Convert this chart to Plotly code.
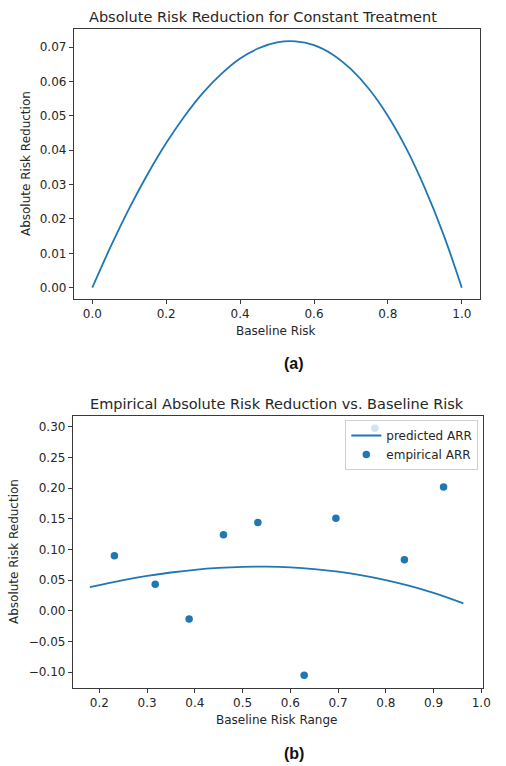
import plotly.graph_objects as go

# (a) absolute risk reduction vs. baseline risk under a constant treatment effect
risk_grid = [0.00, 0.05, 0.10, 0.15, 0.20, 0.25, 0.30, 0.35, 0.40, 0.45, 0.50,
             0.55, 0.60, 0.65, 0.70, 0.75, 0.80, 0.85, 0.90, 0.95, 1.00]
arr_constant = [0.0000, 0.0120, 0.0231, 0.0331, 0.0421, 0.0500, 0.0568, 0.0623,
                0.0667, 0.0697, 0.0714, 0.0717, 0.0706, 0.0679, 0.0636, 0.0577,
                0.0500, 0.0405, 0.0290, 0.0156, 0.0000]

# (b) predicted curve over the observed baseline-risk span
pred_risk = [0.18, 0.25, 0.30, 0.35, 0.40, 0.45, 0.50, 0.55, 0.60, 0.65,
             0.70, 0.75, 0.80, 0.85, 0.90, 0.9625]
pred_arr = [0.0386, 0.0500, 0.0568, 0.0623, 0.0667, 0.0697, 0.0714, 0.0717,
            0.0706, 0.0679, 0.0636, 0.0577, 0.0500, 0.0405, 0.0290, 0.0120]

# (b) empirical ARR per baseline-risk group
emp_risk = [0.2315, 0.317, 0.388, 0.460, 0.532, 0.629, 0.6955, 0.777, 0.839, 0.921]
emp_arr = [0.0897, 0.043, -0.0135, 0.124, 0.144, -0.1054, 0.1506, 0.2974, 0.0832, 0.2017]

x_ticks_a = [0.0, 0.2, 0.4, 0.6, 0.8, 1.0]
y_ticks_a = [0.00, 0.01, 0.02, 0.03, 0.04, 0.05, 0.06, 0.07]
x_ticks_b = [0.2, 0.3, 0.4, 0.5, 0.6, 0.7, 0.8, 0.9, 1.0]
y_ticks_b = [-0.10, -0.05, 0.00, 0.05, 0.10, 0.15, 0.20, 0.25, 0.30]

W, H = 506, 766
BLUE = "#1f77b4"
INK = "#262626"
SPINE = "#3a3a3a"
FONT = "DejaVu Sans"


def px_x(p):
    return p / W


def px_y(p):
    return 1 - p / H


fig = go.Figure()

fig.add_trace(go.Scatter(
    x=risk_grid, y=arr_constant, mode="lines", line=dict(color=BLUE, width=1.8, shape="spline"),
    xaxis="x", yaxis="y", showlegend=False,
))
fig.add_trace(go.Scatter(
    x=pred_risk, y=pred_arr, mode="lines", name="predicted ARR",
    line=dict(color=BLUE, width=1.8, shape="spline"), xaxis="x2", yaxis="y2",
))
fig.add_trace(go.Scatter(
    x=emp_risk, y=emp_arr, mode="markers", name="empirical ARR",
    marker=dict(color=BLUE, size=7.5), xaxis="x2", yaxis="y2",
))

axis_common = dict(
    showgrid=False, zeroline=False, showline=True, linecolor=SPINE, linewidth=1,
    mirror=True, ticks="outside", ticklen=4, tickwidth=1, tickcolor=SPINE,
    tickfont=dict(family=FONT, size=12, color=INK),
)

fig.update_layout(
    width=W, height=H, margin=dict(l=0, r=0, t=0, b=0),
    paper_bgcolor="white", plot_bgcolor="white",
    font=dict(family=FONT, size=12, color=INK),
    xaxis=dict(domain=[px_x(75), px_x(488)], range=[-0.05, 1.05], anchor="y",
               tickvals=x_ticks_a, tickformat=".1f", **axis_common),
    yaxis=dict(domain=[px_y(299), px_y(29)], range=[-0.0033, 0.0753], anchor="x",
               tickvals=y_ticks_a, tickformat=".2f", **axis_common),
    xaxis2=dict(domain=[px_x(74), px_x(490.7)], range=[0.1444, 1.0035], anchor="y2",
                tickvals=x_ticks_b, tickformat=".1f", **axis_common),
    yaxis2=dict(domain=[px_y(687.7), px_y(415.7)], range=[-0.1256, 0.318], anchor="x2",
                tickvals=y_ticks_b, tickformat=".2f", **axis_common),
    legend=dict(
        x=px_x(486), y=px_y(420), xanchor="right", yanchor="top",
        bgcolor="rgba(255,255,255,0.8)", bordercolor="#d0d0d0", borderwidth=1,
        itemwidth=30, tracegroupgap=0,
        font=dict(family=FONT, size=12, color=INK),
    ),
)

texts = [
    # titles
    dict(text="Absolute Risk Reduction for Constant Treatment", x=267.5, y=17, size=14.5, angle=0),
    dict(text="Empirical Absolute Risk Reduction vs. Baseline Risk", x=281.5, y=404, size=14.5, angle=0),
    # axis titles
    dict(text="Baseline Risk", x=280.5, y=331, size=12, angle=0),
    dict(text="Absolute Risk Reduction", x=26.5, y=164, size=12, angle=-90),
    dict(text="Baseline Risk Range", x=280.8, y=720, size=12, angle=0),
    dict(text="Absolute Risk Reduction", x=13.5, y=551.7, size=12, angle=-90),
]
for t in texts:
    fig.add_annotation(
        text=t["text"], x=px_x(t["x"]), y=px_y(t["y"]), xref="paper", yref="paper",
        xanchor="center", yanchor="middle", showarrow=False, textangle=t["angle"],
        font=dict(family=FONT, size=t["size"], color=INK),
    )

for label, y in [("(a)", 364), ("(b)", 753)]:
    fig.add_annotation(
        text=f"<b>{label}</b>", x=px_x(298.5), y=px_y(y), xref="paper", yref="paper",
        xanchor="center", yanchor="middle", showarrow=False,
        font=dict(family="Liberation Sans", size=16, color="#111111"),
    )

fig.write_html("out.html")
